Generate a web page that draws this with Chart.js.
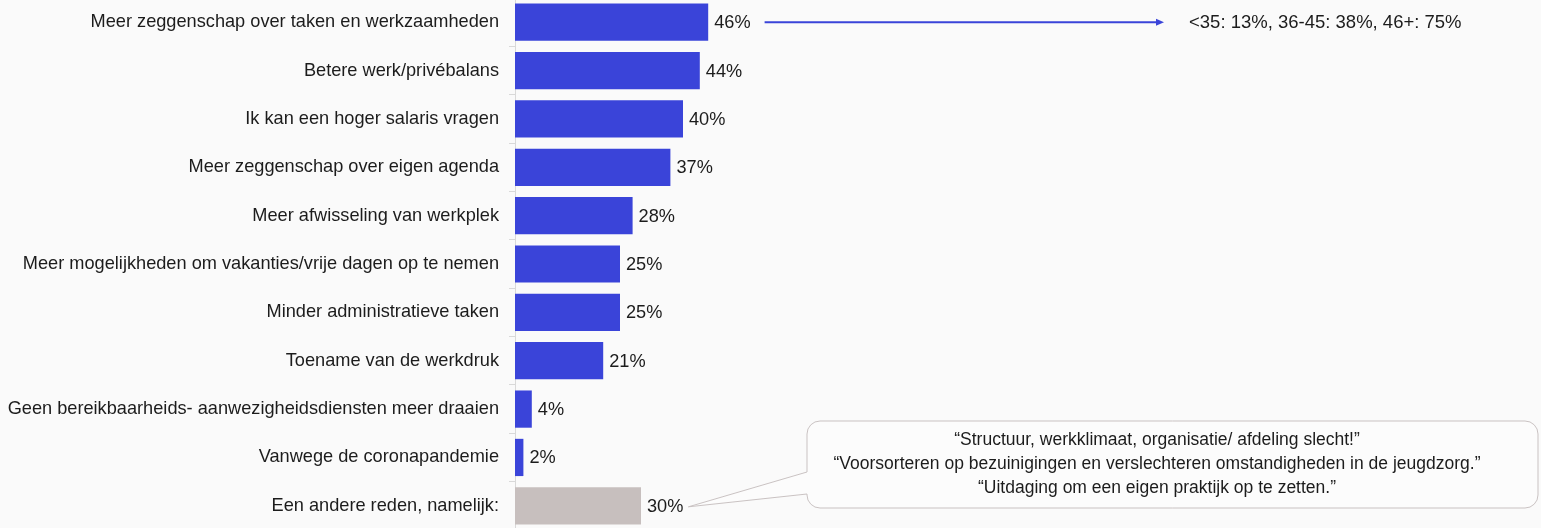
<!DOCTYPE html>
<html lang="nl">
<head>
<meta charset="utf-8">
<title>Redenen</title>
<script src="https://cdn.jsdelivr.net/npm/chart.js@4.4.1/dist/chart.umd.min.js"></script>
<style>
    html, body { margin: 0; padding: 0; background: #fafafa; overflow: hidden; }
    /* canvas is a bit taller than the page so the bands run edge to edge */
    #reasonsChart { display: block; margin-top: -2px; }
</style>
</head>
<body>
<canvas id="reasonsChart" width="1541" height="532"></canvas>
<script>
// ================== DATA ==================
const categories = [
    "Meer zeggenschap over taken en werkzaamheden",
    "Betere werk/privébalans",
    "Ik kan een hoger salaris vragen",
    "Meer zeggenschap over eigen agenda",
    "Meer afwisseling van werkplek",
    "Meer mogelijkheden om vakanties/vrije dagen op te nemen",
    "Minder administratieve taken",
    "Toename van de werkdruk",
    "Geen bereikbaarheids- aanwezigheidsdiensten meer draaien",
    "Vanwege de coronapandemie",
    "Een andere reden, namelijk:"
];
const shares = [46, 44, 40, 37, 28, 25, 25, 21, 4, 2, 30];
const ageSplit = "<35: 13%, 36-45: 38%, 46+: 75%";
const otherQuotes = [
    "\u201CStructuur, werkklimaat, organisatie/ afdeling slecht!\u201D",
    "\u201CVoorsorteren op bezuinigingen en verslechteren omstandigheden in de jeugdzorg.\u201D",
    "\u201CUitdaging om een eigen praktijk op te zetten.\u201D"
];

const BLUE = "#3a44d9";
const GREY = "#c7bfbe";
const TEXT = "#1c1c1c";
const LINE = "#d9d9d9";
const BOX = "#c9c2c2";
const FAMILY = "'Liberation Sans', Arial, sans-serif";
const LABEL_FONT = "18.2px " + FAMILY;
const AGE_FONT = "18.5px " + FAMILY;
const QUOTE_FONT = "17.5px " + FAMILY;
const SHIFT = 2; // canvas starts 2px above the page

// value labels, age arrow and the quotes callout
const annotations = {
    id: "annotations",
    afterDatasetsDraw(chart) {
        const ctx = chart.ctx;
        const bars = chart.getDatasetMeta(0).data;
        ctx.save();
        ctx.font = LABEL_FONT;
        ctx.fillStyle = TEXT;
        ctx.textBaseline = "middle";
        ctx.textAlign = "left";
        const labelEnds = bars.map((bar, i) => {
            const txt = shares[i] + "%";
            ctx.fillText(txt, bar.x + 6, bar.y + 1);
            return bar.x + 6 + ctx.measureText(txt).width;
        });

        // arrow from the top bar to the age split
        const y0 = bars[0].y;
        const ax0 = labelEnds[0] + 14;
        const ax1 = 1164;
        ctx.strokeStyle = BLUE;
        ctx.fillStyle = BLUE;
        ctx.lineWidth = 2;
        ctx.beginPath();
        ctx.moveTo(ax0, y0);
        ctx.lineTo(ax1 - 6, y0);
        ctx.stroke();
        ctx.beginPath();
        ctx.moveTo(ax1, y0);
        ctx.lineTo(ax1 - 8, y0 - 3.5);
        ctx.lineTo(ax1 - 8, y0 + 3.5);
        ctx.closePath();
        ctx.fill();
        ctx.font = AGE_FONT;
        ctx.fillStyle = TEXT;
        ctx.fillText(ageSplit, 1189, y0 + 1);

        // callout with quotes, pointing at the last bar
        const last = bars.length - 1;
        const tipX = labelEnds[last] + 5;
        const tipY = bars[last].y + 1;
        const L = 807, T = 421 + SHIFT, R = 1538, B = 508 + SHIFT, r = 13;
        ctx.beginPath();
        ctx.moveTo(tipX, tipY);
        ctx.lineTo(L, 494 + SHIFT);
        ctx.lineTo(L, B - r);
        ctx.arcTo(L, B, L + r, B, r);
        ctx.lineTo(R - r, B);
        ctx.arcTo(R, B, R, B - r, r);
        ctx.lineTo(R, T + r);
        ctx.arcTo(R, T, R - r, T, r);
        ctx.lineTo(L + r, T);
        ctx.arcTo(L, T, L, T + r, r);
        ctx.lineTo(L, 472 + SHIFT);
        ctx.closePath();
        ctx.fillStyle = "#fcfcfc";
        ctx.fill();
        ctx.strokeStyle = BOX;
        ctx.lineWidth = 1;
        ctx.stroke();

        ctx.font = QUOTE_FONT;
        ctx.fillStyle = TEXT;
        ctx.textAlign = "center";
        otherQuotes.forEach((q, i) => {
            ctx.fillText(q, 1157, 440 + SHIFT + i * 24);
        });
        ctx.restore();
    }
};

new Chart(document.getElementById("reasonsChart").getContext("2d"), {
    type: "bar",
    data: {
        labels: categories,
        datasets: [{
            data: shares,
            backgroundColor: ctx => ctx.dataIndex === categories.length - 1 ? GREY : BLUE,
            borderWidth: 0,
            categoryPercentage: 0.77,
            barPercentage: 1
        }]
    },
    options: {
        indexAxis: "y",
        responsive: false,
        animation: false,
        layout: {
            padding: { top: 0, bottom: 0, left: 0, right: 606 }
        },
        plugins: {
            legend: { display: false },
            tooltip: { enabled: false }
        },
        scales: {
            x: {
                display: false,
                min: 0,
                max: 100
            },
            y: {
                afterFit: scale => {
                    scale.width = 515;
                    // labels sit mid-band, so no extra room needed above/below
                    scale.paddingTop = 0;
                    scale.paddingBottom = 0;
                },
                border: { display: true, color: LINE, width: 1 },
                grid: {
                    offset: true,
                    drawOnChartArea: false,
                    tickLength: 6,
                    color: LINE
                },
                ticks: {
                    padding: 10,
                    color: TEXT,
                    font: { family: FAMILY, size: 18.2 }
                }
            }
        }
    },
    plugins: [annotations]
});
</script>
</body>
</html>
